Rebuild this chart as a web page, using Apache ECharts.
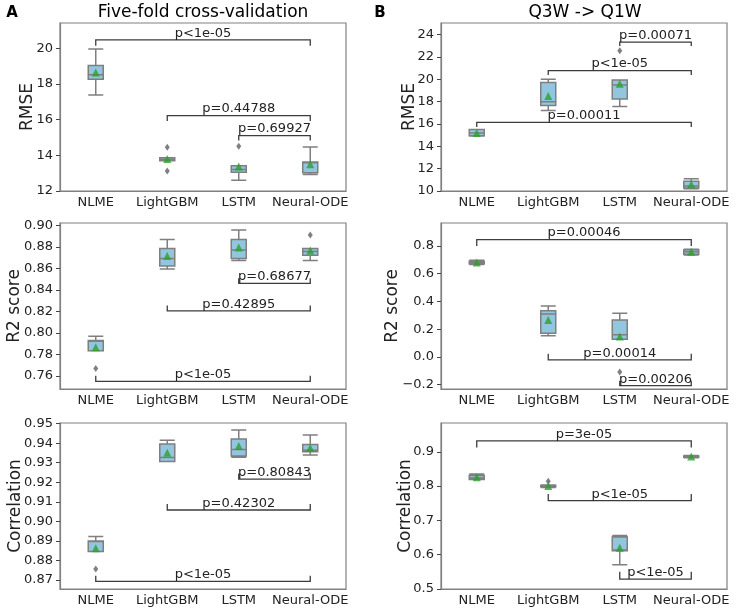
<!DOCTYPE html>
<html>
<head>
<meta charset="utf-8">
<script src="https://cdn.jsdelivr.net/npm/echarts@6/dist/echarts.min.js"></script>
<style>
html, body { margin: 0; padding: 0; background: #fff; }
#chart { width: 736px; height: 614px; }
</style>
</head>
<body>
<div id="chart"></div>
<script>
var models = ["NLME", "LightGBM", "LSTM", "Neural-ODE"];

// box = [min, Q1, median, Q3, max]
// A : five-fold cross-validation
var rmseCvBox = [[17.38, 18.26, 18.52, 19.03, 19.96], [13.69, 13.69, 13.76, 13.86, 13.86], [12.6, 13.05, 13.2, 13.41, 13.41], [12.92, 13.03, 13.58, 13.63, 14.47]];
var rmseCvMean = [18.65, 13.8, 13.37, 13.5];
var rmseCvOut = [[1, 14.45], [1, 13.12], [2, 14.51]];
var rmseCvPairs = [[0, 3, 20.47, 20.15], [1, 3, 16.23, 15.93], [2, 3, 15.11, 14.83]];
var rmseCvP = ["p<1e-05", "p=0.44788", "p=0.69927"];

var r2CvBox = [[0.7832, 0.7832, 0.792, 0.7928, 0.7968], [0.8592, 0.862, 0.8691, 0.8784, 0.8867], [0.8672, 0.8691, 0.8771, 0.8867, 0.8957], [0.8672, 0.8722, 0.8755, 0.8784, 0.8784]];
var r2CvMean = [0.7866, 0.8713, 0.8793, 0.8765];
var r2CvOut = [[0, 0.7668], [3, 0.891]];
var r2CvPairs = [[2, 3, 0.8459, 0.8508], [1, 3, 0.8203, 0.8254], [0, 3, 0.7547, 0.76]];
var r2CvP = ["p=0.68677", "p=0.42895", "p<1e-05"];

var corrCvBox = [[0.8846, 0.8846, 0.8897, 0.89, 0.8922], [0.9306, 0.9306, 0.9327, 0.9395, 0.9415], [0.9328, 0.9334, 0.9367, 0.9421, 0.9467], [0.9339, 0.9356, 0.9364, 0.9393, 0.9441]];
var corrCvMean = [0.8863, 0.9351, 0.9386, 0.9376];
var corrCvOut = [[0, 0.8756]];
var corrCvPairs = [[2, 3, 0.9216, 0.9245], [1, 3, 0.9058, 0.9089], [0, 3, 0.8693, 0.8722]];
var corrCvP = ["p=0.80843", "p=0.42302", "p<1e-05"];

// B : Q3W -> Q1W
var rmseQBox = [[14.92, 14.95, 15.2, 15.5, 15.52], [17.22, 17.67, 18.0, 19.71, 20.01], [17.58, 18.24, 19.5, 19.95, 19.95], [10.2, 10.27, 10.45, 10.87, 11.1]];
var rmseQMean = [15.2, 18.51, 19.6, 10.6];
var rmseQOut = [[2, 22.56]];
var rmseQPairs = [[2, 3, 23.34, 23.0], [1, 3, 20.79, 20.4], [0, 3, 16.15, 15.73]];
var rmseQP = ["p=0.00071", "p<1e-05", "p=0.00011"];

var r2QBox = [[0.666, 0.672, 0.68, 0.69, 0.697], [0.152, 0.171, 0.3096, 0.3335, 0.367], [0.1278, 0.1278, 0.159, 0.2665, 0.3144], [0.735, 0.74, 0.757, 0.772, 0.776]];
var r2QMean = [0.68, 0.2665, 0.147, 0.757];
var r2QOut = [[2, -0.109]];
var r2QPairs = [[0, 3, 0.8455, 0.8], [1, 3, -0.0206, 0.0225], [2, 3, -0.2072, -0.171]];
var r2QP = ["p=0.00046", "p=0.00014", "p=0.00206"];

var corrQBox = [[0.819, 0.8195, 0.824, 0.8306, 0.8354], [0.796, 0.798, 0.8, 0.8015, 0.803], [0.5704, 0.6118, 0.6137, 0.6513, 0.6561], [0.883, 0.884, 0.886, 0.888, 0.889]];
var corrQMean = [0.8258, 0.8, 0.6205, 0.886];
var corrQOut = [[1, 0.814]];
var corrQPairs = [[0, 3, 0.9318, 0.9125], [1, 3, 0.7574, 0.7767], [2, 3, 0.5289, 0.55]];
var corrQP = ["p=3e-05", "p<1e-05", "p<1e-05"];

var FONT = '"DejaVu Sans", sans-serif';
var GREY = "#808080";

// one entry per panel : grid place + y axis setup
var panels = [
	{ left: 60, top: 23, h: 168, name: "RMSE", gap: 24, min: 12, max: 21.42, step: 2, dec: 0, hideMin: false,
	  box: rmseCvBox, mean: rmseCvMean, out: rmseCvOut, pairs: rmseCvPairs, p: rmseCvP },
	{ left: 60, top: 223, h: 166, name: "R2 score", gap: 37, min: 0.7477, max: 0.9021, step: 0.02, dec: 2, hideMin: true,
	  box: r2CvBox, mean: r2CvMean, out: r2CvOut, pairs: r2CvPairs, p: r2CvP },
	{ left: 60, top: 423, h: 166, name: "Correlation", gap: 36, min: 0.8654, max: 0.9503, step: 0.01, dec: 2, hideMin: true,
	  box: corrCvBox, mean: corrCvMean, out: corrCvOut, pairs: corrCvPairs, p: corrCvP },
	{ left: 441, top: 23, h: 168, name: "RMSE", gap: 23, min: 10, max: 25.05, step: 2, dec: 0, hideMin: false,
	  box: rmseQBox, mean: rmseQMean, out: rmseQOut, pairs: rmseQPairs, p: rmseQP },
	{ left: 441, top: 223, h: 166, name: "R2 score", gap: 40, min: -0.231, max: 0.965, step: 0.2, dec: 1, hideMin: true,
	  box: r2QBox, mean: r2QMean, out: r2QOut, pairs: r2QPairs, p: r2QP },
	{ left: 441, top: 423, h: 166, name: "Correlation", gap: 27, min: 0.5, max: 0.984, step: 0.1, dec: 1, hideMin: false,
	  box: corrQBox, mean: corrQMean, out: corrQOut, pairs: corrQPairs, p: corrQP }
];

function makeBracket(pairs, labels) {
	return function(params, api) {
		var b = pairs[params.dataIndex];
		var a1 = api.coord([b[0], b[2]]);
		var a2 = api.coord([b[1], b[2]]);
		var l1 = api.coord([b[0], b[3]]);
		var l2 = api.coord([b[1], b[3]]);
		return {
			type: "group",
			children: [{
				type: "polyline",
				shape: { points: [l1, a1, a2, l2] },
				style: { stroke: "#3c3c3c", lineWidth: 1.3, fill: null }
			}, {
				type: "text",
				x: (a1[0] + a2[0]) / 2,
				y: a1[1],
				style: { text: labels[params.dataIndex], font: "13px " + FONT, fill: "#222", align: "center", verticalAlign: "bottom" }
			}]
		};
	};
}

function fmt(dec) {
	return function(v) {
		var s = v.toFixed(dec);
		if (v < 0) s = "\u2212" + s.substring(1);
		return s;
	};
}

var grids = [], xAxes = [], yAxes = [], series = [];
panels.forEach(function(pn, k) {
	grids.push({ left: pn.left, top: pn.top, width: 286, height: pn.h, show: true, borderColor: GREY, borderWidth: 1.2 });
	xAxes.push({
		type: "category", gridIndex: k, data: models,
		axisLine: { onZero: false, lineStyle: { color: GREY, width: 1.2 } },
		axisTick: { alignWithLabel: true, length: 4, lineStyle: { color: "#444" } },
		axisLabel: { interval: 0, fontSize: 13, fontFamily: FONT, color: "#222", margin: 5 },
		splitLine: { show: false }
	});
	yAxes.push({
		type: "value", gridIndex: k, min: pn.min, max: pn.max,
		splitNumber: 5, minInterval: pn.step, maxInterval: pn.step,
		name: pn.name, nameLocation: "middle", nameGap: pn.gap, nameMoveOverlap: false,
		nameTextStyle: { fontSize: 17, fontFamily: FONT, color: "#222" },
		axisLine: { show: true, onZero: false, lineStyle: { color: GREY, width: 1.2 } },
		axisTick: { show: true, length: 4, lineStyle: { color: "#444" } },
		axisLabel: { fontSize: 13, fontFamily: FONT, color: "#222", margin: 7, formatter: fmt(pn.dec),
			showMinLabel: !pn.hideMin, showMaxLabel: false },
		splitLine: { show: false }
	});
	series.push({
		type: "boxplot", xAxisIndex: k, yAxisIndex: k, data: pn.box,
		boxWidth: [15, 15],
		itemStyle: { color: "#92c6de", borderColor: "#7f7f7f", borderWidth: 1.5 },
		emphasis: { disabled: true }
	});
	series.push({
		type: "scatter", xAxisIndex: k, yAxisIndex: k, data: pn.out,
		symbol: "diamond", symbolSize: [5, 7],
		itemStyle: { color: "#606060" }, z: 3
	});
	series.push({
		type: "scatter", xAxisIndex: k, yAxisIndex: k,
		data: pn.mean.map(function(v, i) { return [i, v]; }),
		symbol: "triangle", symbolSize: 8,
		itemStyle: { color: "#2ca02c" }, z: 4
	});
	series.push({
		type: "custom", xAxisIndex: k, yAxisIndex: k,
		data: pn.pairs, renderItem: makeBracket(pn.pairs, pn.p), z: 5, silent: true
	});
});

var voChart = echarts.init(document.getElementById("chart"));
voChart.setOption({
	animation: false,
	backgroundColor: "#fff",
	grid: grids,
	xAxis: xAxes,
	yAxis: yAxes,
	series: series,
	graphic: [
		{ type: "text", x: 12, y: 13, style: { text: "A", font: "bold 15px " + FONT, fill: "#000", align: "center", verticalAlign: "middle" } },
		{ type: "text", x: 380, y: 13, style: { text: "B", font: "bold 15px " + FONT, fill: "#000", align: "center", verticalAlign: "middle" } },
		{ type: "text", x: 203, y: 13, style: { text: "Five-fold cross-validation", font: "17px " + FONT, fill: "#000", align: "center", verticalAlign: "middle" } },
		{ type: "text", x: 585, y: 13, style: { text: "Q3W -> Q1W", font: "17px " + FONT, fill: "#000", align: "center", verticalAlign: "middle" } }
	]
});
</script>
</body>
</html>
